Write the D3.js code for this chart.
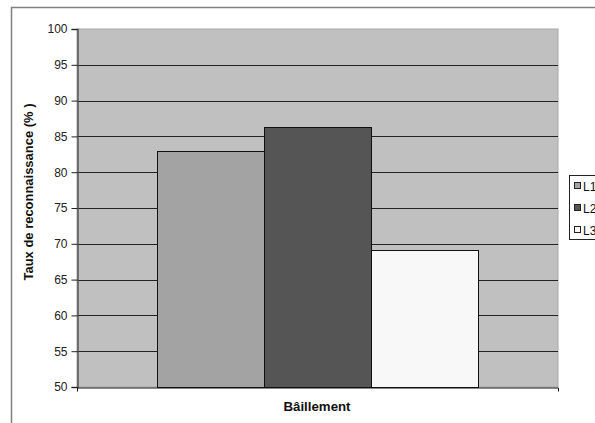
<!DOCTYPE html>
<html><head><meta charset="utf-8">
<script src="https://cdn.jsdelivr.net/npm/d3@7"></script>
<style>body{margin:0;background:#fff}svg{display:block}</style>
</head><body><svg id="c" width="595" height="423"></svg>
<script>
const categories = ["Bâillement"];
const seriesNames = ["L1", "L2", "L3"];
const seriesValues = [83.0, 86.3, 69.2];
const seriesColors = ["#a3a3a3", "#555555", "#f8f8f8"];
const yTicks = [50, 55, 60, 65, 70, 75, 80, 85, 90, 95, 100];
const yTitle = "Taux de reconnaissance (% )";

const svg = d3.select("#c");
const font = "Arial, 'Liberation Sans', sans-serif";
const L = 77, R = 558, T = 29, B = 387;

// outer border
svg.append("path").attr("d", "M11.5,423 V7.5 H595").attr("fill","none").attr("stroke","#808080").attr("stroke-width",1.5);

const x0 = d3.scaleBand().domain(categories).range([L, R]).paddingInner(0).paddingOuter(0);
const x1 = d3.scaleBand().domain(seriesNames).range([157, 478]);
const y = d3.scaleLinear().domain([50, 100]).range([B, T]);

svg.append("rect").attr("x", L).attr("y", T).attr("width", R - L).attr("height", B - T).attr("fill", "#c0c0c0").attr("stroke","#a8a8a8");

// gridlines
svg.append("g").selectAll("line").data(yTicks.filter(d => d > 50 && d < 100)).join("line")
  .attr("x1", L).attr("x2", R).attr("y1", d => Math.round(y(d)) + 0.5).attr("y2", d => Math.round(y(d)) + 0.5)
  .attr("stroke", "#222").attr("stroke-width", 1);

// bars
const cat = categories[0];
svg.append("g").selectAll("rect").data(seriesValues).join("rect")
  .attr("x", (d, i) => x1(seriesNames[i]) + 0.5)
  .attr("y", d => Math.round(y(d)) + 0.5)
  .attr("width", x1.bandwidth())
  .attr("height", d => B - Math.round(y(d)))
  .attr("fill", (d, i) => seriesColors[i])
  .attr("stroke", "#111").attr("stroke-width", 1);

// y axis
const yAxis = d3.axisLeft(y).tickValues(yTicks).tickSize(6).tickPadding(4);
const gy = svg.append("g").attr("transform", `translate(${L + 0.5},0)`).call(yAxis);
gy.select(".domain").attr("stroke", "#555").attr("stroke-width", 1.5);
gy.selectAll(".tick line").attr("stroke", "#222");
gy.selectAll("text").attr("font-family", font).attr("font-size", 12).attr("fill", "#222");

// x axis
const xAxis = d3.axisBottom(x0).tickValues([]).tickSizeOuter(4);
const gx = svg.append("g").attr("transform", `translate(0,${B + 0.5})`).call(xAxis);
gx.select(".domain").attr("stroke", "#111");

svg.append("text").attr("x", 317).attr("y", 411).attr("text-anchor", "middle")
  .attr("font-family", font).attr("font-size", 12).attr("font-weight", "bold").attr("fill","#111")
  .attr("textLength", 67).attr("lengthAdjust", "spacingAndGlyphs").text(cat);

svg.append("text").attr("transform", `translate(33,192) rotate(-90)`).attr("text-anchor", "middle")
  .attr("font-family", font).attr("font-size", 12).attr("font-weight", "bold").attr("fill","#111")
  .attr("textLength", 177).attr("lengthAdjust", "spacingAndGlyphs").text(yTitle);

// legend
const lg = svg.append("g");
lg.append("rect").attr("x", 569.5).attr("y", 175.5).attr("width", 40).attr("height", 64).attr("fill", "#fff").attr("stroke", "#222");
seriesNames.forEach((n, i) => {
  const cy = 186 + i * 22;
  lg.append("rect").attr("x", 574.5).attr("y", cy - 3.5).attr("width", 6).attr("height", 6).attr("fill", seriesColors[i]).attr("stroke", "#222");
  lg.append("text").attr("x", 583).attr("y", cy + 4.5).attr("font-family", font).attr("font-size", 12).attr("fill","#111").text(n);
});
</script></body></html>
